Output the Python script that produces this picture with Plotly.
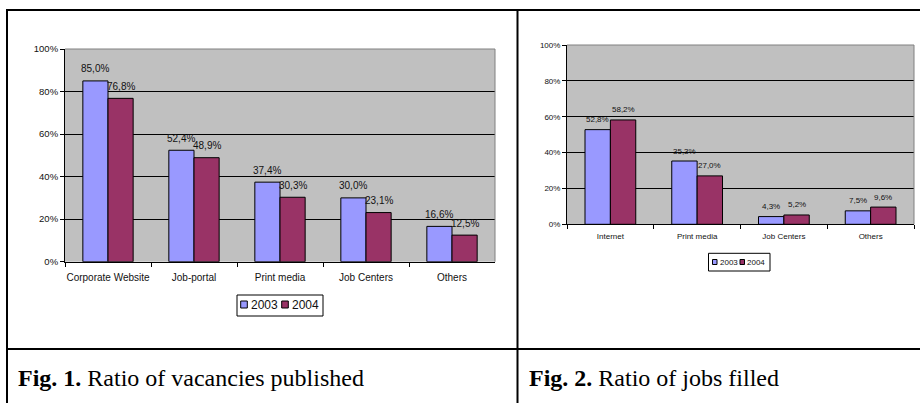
import plotly.graph_objects as go

# ---- data ----
years = ["2003", "2004"]
cats1 = ["Corporate Website", "Job-portal", "Print media", "Job Centers", "Others"]
vac_2003 = [85.0, 52.4, 37.4, 30.0, 16.6]
vac_2004 = [76.8, 48.9, 30.3, 23.1, 12.5]

cats2 = ["Internet", "Print media", "Job Centers", "Others"]
fill_2003 = [52.8, 35.3, 4.3, 7.5]
fill_2004 = [58.2, 27.0, 5.2, 9.6]

y_ticks = [0, 20, 40, 60, 80, 100]
y_tick_text = ["0%", "20%", "40%", "60%", "80%", "100%"]
captions = [("Fig. 1.", " Ratio of vacancies published"), ("Fig. 2.", " Ratio of jobs filled")]

# ---- style ----
W, H = 920, 403
C2003 = "#9999FF"
C2004 = "#993366"
SANS = "Arial, Liberation Sans, sans-serif"
SERIF = "Times New Roman, Liberation Serif, serif"


def px(x):
    return x / W


def py(y):
    return 1 - y / H


def fmt(v):
    return f"{v:.1f}%".replace(".", ",")


fig = go.Figure()

panels = [
    dict(xa="x", ya="y", cats=cats1, s=[vac_2003, vac_2004], lfs=10, yshift=12, xs=12.6),
    dict(xa="x2", ya="y2", cats=cats2, s=[fill_2003, fill_2004], lfs=8, yshift=10, xs=12.7),
]
colors = [C2003, C2004]

annotations = []
for p in panels:
    for k, (yr, vals) in enumerate(zip(years, p["s"])):
        fig.add_trace(go.Bar(
            x=p["cats"], y=vals, name=yr, xaxis=p["xa"], yaxis=p["ya"],
            marker=dict(color=colors[k], line=dict(color="#000000", width=1)),
            showlegend=False, hoverinfo="skip",
        ))
        for c, v in zip(p["cats"], vals):
            annotations.append(dict(
                x=c, y=v, xref=p["xa"], yref=p["ya"], text=fmt(v), showarrow=False,
                xshift=(-p["xs"] if k == 0 else p["xs"]), yshift=p["yshift"],
                yanchor="middle", xanchor="center",
                font=dict(family=SANS, size=p["lfs"], color="#111111"),
            ))

axis_common_y = dict(
    range=[0, 100], tickmode="array", tickvals=y_ticks, ticktext=y_tick_text,
    showgrid=True, gridcolor="#000000", automargin=False,
    gridwidth=1, zeroline=False, showline=True, linecolor="#000000", linewidth=1,
    ticks="outside", ticklen=4, tickcolor="#000000", fixedrange=True,
)
axis_common_x = dict(
    type="category", showgrid=False, zeroline=False, showline=True, linecolor="#000000",
    linewidth=1, ticks="outside", ticklen=4, tickcolor="#000000", tickson="boundaries",
    tickangle=0, fixedrange=True, automargin=False,
)

fig.update_layout(
    width=W, height=H, margin=dict(l=0, r=0, t=0, b=0, autoexpand=False),
    paper_bgcolor="#FFFFFF", plot_bgcolor="#C0C0C0",
    barmode="group", bargap=0.415, bargroupgap=0,
    showlegend=False,
    xaxis=dict(axis_common_x, domain=[px(65), px(495)], anchor="y", ticklabelstandoff=6,
               tickfont=dict(family=SANS, size=10, color="#111111")),
    yaxis=dict(axis_common_y, domain=[py(261.7), py(49)], anchor="x",
               tickfont=dict(family=SANS, size=9.5, color="#111111")),
    xaxis2=dict(axis_common_x, domain=[px(567), px(914)], anchor="y2", ticklabelstandoff=4,
                tickfont=dict(family=SANS, size=8, color="#111111")),
    yaxis2=dict(axis_common_y, domain=[py(224.3), py(45)], anchor="x2",
                tickfont=dict(family=SANS, size=8, color="#111111")),
)

shapes = []
# plot-area grey border (top and right)
for xa, ya in [("x", "y"), ("x2", "y2")]:
    shapes.append(dict(type="line", xref=f"{xa} domain", yref=f"{ya} domain", x0=0, x1=1, y0=1, y1=1,
                       line=dict(color="#808080", width=1), layer="above"))
    shapes.append(dict(type="line", xref=f"{xa} domain", yref=f"{ya} domain", x0=1, x1=1, y0=0, y1=1,
                       line=dict(color="#808080", width=1), layer="above"))

# table borders
tb = dict(color="#000000", width=2)
shapes += [
    dict(type="line", xref="paper", yref="paper", x0=px(6), x1=1, y0=py(10), y1=py(10), line=tb),
    dict(type="line", xref="paper", yref="paper", x0=px(6), x1=1, y0=py(349), y1=py(349), line=tb),
    dict(type="line", xref="paper", yref="paper", x0=px(7), x1=px(7), y0=py(9), y1=0, line=tb),
    dict(type="line", xref="paper", yref="paper", x0=px(517.5), x1=px(517.5), y0=py(9), y1=0, line=tb),
]

# custom legends (box, swatches, labels)
legends = [
    dict(box=(237, 323, 295, 316), sw=[(240.7, 247.3), (281.7, 288.3)], sy=(301, 308),
         tx=[248.5, 289.5], ty=305, fs=12),
    dict(box=(708.5, 770, 253.3, 271), sw=[(712.5, 717), (740, 744.5)], sy=(259.5, 264.5),
         tx=[717.8, 745], ty=262.3, fs=8),
]
for lg in legends:
    x0, x1, y0, y1 = lg["box"]
    shapes.append(dict(type="rect", xref="paper", yref="paper", x0=px(x0), x1=px(x1), y0=py(y1), y1=py(y0),
                       line=dict(color="#000000", width=1), fillcolor="#FFFFFF"))
    for k, (sx0, sx1) in enumerate(lg["sw"]):
        shapes.append(dict(type="rect", xref="paper", yref="paper", x0=px(sx0), x1=px(sx1),
                           y0=py(lg["sy"][1]), y1=py(lg["sy"][0]),
                           line=dict(color="#000000", width=1), fillcolor=colors[k]))
        annotations.append(dict(x=px(lg["tx"][k]), y=py(lg["ty"]), xref="paper", yref="paper",
                                text=years[k], showarrow=False, xanchor="left", yanchor="middle",
                                font=dict(family=SANS, size=lg["fs"], color="#111111")))

# captions
for (bold, rest), x in zip(captions, [16, 527]):
    annotations.append(dict(x=px(x), y=py(378), xref="paper", yref="paper",
                            text=f"<b>{bold}</b>{rest}", showarrow=False, xanchor="left",
                            yanchor="middle", font=dict(family=SERIF, size=24, color="#000000")))

fig.update_layout(shapes=shapes, annotations=annotations)
fig.write_html("out.html")
